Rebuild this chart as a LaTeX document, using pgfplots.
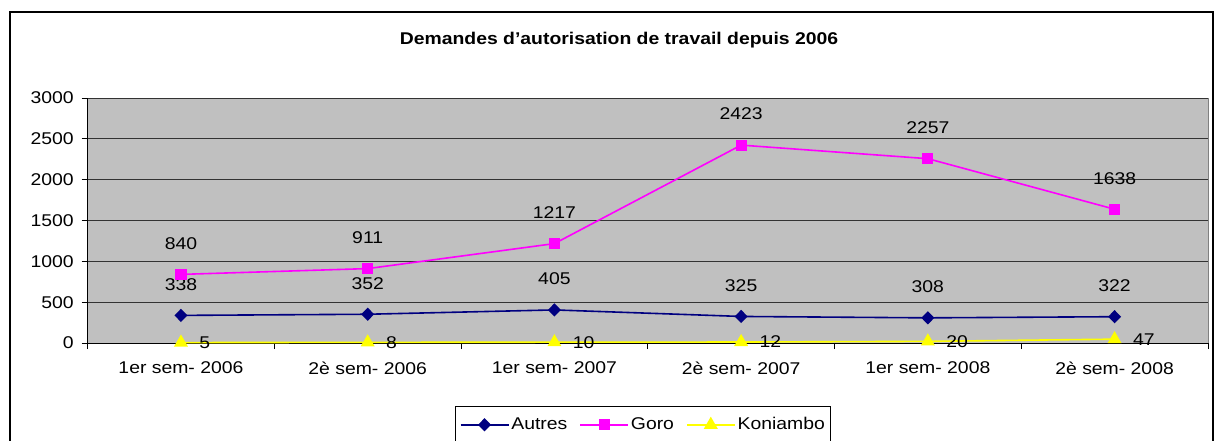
\documentclass[border=0pt]{standalone}
\usepackage{fontspec}
\setmainfont[FakeStretch=1.14]{Liberation Sans}
\usepackage{pgfplots}
\pgfplotsset{compat=1.18}
\definecolor{autres}{RGB}{0,0,128}
\definecolor{goro}{RGB}{255,0,255}
\definecolor{koni}{RGB}{255,255,0}
\definecolor{plotbg}{RGB}{192,192,192}
\definecolor{bordergray}{RGB}{128,128,128}
\begin{document}
\fontsize{17bp}{20bp}\selectfont
\begin{tikzpicture}
\path[use as bounding box] (0,0) rectangle (1214bp,441bp);
\draw[line width=2bp] (10bp,-20bp) rectangle (1212.5bp,429bp);
\node[font=\fontsize{17bp}{20bp}\selectfont\bfseries] at (619bp,401bp) {Demandes d{\char"0027}autorisation de travail depuis 2006};
\begin{axis}[
  at={(87.6bp,98bp)}, anchor=south west,
  width=1120.4bp, height=245bp, scale only axis,
  xmin=0, xmax=6, ymin=0, ymax=3000,
  axis lines=left, axis line style={-, black, line width=0.9bp},
  axis background/.style={fill=plotbg, draw=bordergray, line width=0.8bp},
  xtick={0,1,2,3,4,5,6},
  xticklabels={1er sem- 2006,2è sem- 2006,1er sem- 2007,2è sem- 2007,1er sem- 2008,2è sem- 2008},
  x tick label as interval,
  ytick={0,500,1000,1500,2000,2500,3000},
  tick align=outside, major tick length=6bp,
  tick style={black, line width=0.8bp},
  ymajorgrids, grid style={black!80, line width=0.8bp},
  /pgf/number format/assume math mode=true,
  /pgf/number format/1000 sep={},
  ticklabel style={font=\fontsize{17bp}{20bp}\selectfont},
  yticklabel style={xshift=-2bp},
  xticklabel style={yshift=-7bp},
  clip=false,
  legend columns=3,
  legend style={at={(0.496,-0.257)}, anchor=north, draw=black, line width=0.8bp,
    font=\fontsize{17bp}{20bp}\selectfont, inner ysep=9bp, inner xsep=4bp,
    /tikz/every even column/.append style={column sep=10bp}},
  legend image code/.code={\draw[mark repeat=2,mark phase=2,#1] plot coordinates {(0bp,0bp) (24bp,0bp) (48bp,0bp)};},
  every node near coord/.append style={font=\fontsize{17bp}{20bp}\selectfont, black},
]
\addplot[autres, line width=1.6bp, mark=diamond*, mark size=5.5bp,
  mark options={xscale=1.3, solid, fill=autres},
  nodes near coords, every node near coord/.append style={anchor=center, yshift=31bp}]
  coordinates {(0.5,338) (1.5,352) (2.5,405) (3.5,325) (4.5,308) (5.5,322)};
\addlegendentry{Autres}
\addplot[goro, line width=1.6bp, mark=square*, mark size=4.8bp,
  mark options={solid, fill=goro},
  nodes near coords, every node near coord/.append style={anchor=center, yshift=31bp}]
  coordinates {(0.5,840) (1.5,911) (2.5,1217) (3.5,2423) (4.5,2257) (5.5,1638)};
\addlegendentry{Goro}
\addplot[koni, line width=1.6bp, mark=triangle*, mark size=6.5bp,
  mark options={solid, fill=koni},
  nodes near coords, every node near coord/.append style={anchor=west, xshift=12bp}]
  coordinates {(0.5,5) (1.5,8) (2.5,10) (3.5,12) (4.5,20) (5.5,47)};
\addlegendentry{Koniambo}
\end{axis}
\end{tikzpicture}
\end{document}
